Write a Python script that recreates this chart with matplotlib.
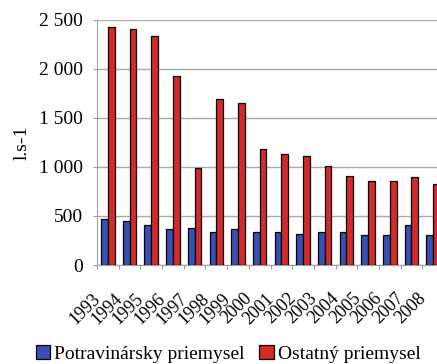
import numpy as np
import matplotlib
matplotlib.use("Agg")
import matplotlib.pyplot as plt
from matplotlib.ticker import FuncFormatter, FixedLocator
from matplotlib.transforms import offset_copy

years = [str(y) for y in range(1993, 2009)]
potravinarsky = [469, 452, 405, 367, 381, 335, 367, 337, 337, 320, 337, 337, 303, 303, 405, 303]
ostatny = [2425, 2408, 2340, 1932, 993, 1690, 1656, 1183, 1129, 1115, 1013, 911, 857, 857, 894, 826]
series_names = ["Potravinársky priemysel", "Ostatný priemysel"]
y_ticks = [0, 500, 1000, 1500, 2000, 2500]

plt.rcParams["font.family"] = ["Liberation Serif", "DejaVu Serif"]

fig = plt.figure(figsize=(4.37, 3.64), dpi=100)
# plot area runs slightly past the right edge of the canvas
ax = fig.add_axes([97 / 437, 1 - 265 / 364, 347 / 437, 245 / 364])

x = np.arange(len(years))
w = 0.31
blue = "#3a4fb5"
red = "#d42a2a"
ax.bar(x - w / 2, potravinarsky, width=w, color=blue, edgecolor="black",
       linewidth=0.9, label=series_names[0], zorder=3)
ax.bar(x + w / 2, ostatny, width=w, color=red, edgecolor="black",
       linewidth=0.9, label=series_names[1], zorder=3)

ax.set_xlim(-0.5, len(years) - 0.5)
ax.set_ylim(0, 2500)
ax.set_yticks(y_ticks)
ax.yaxis.set_major_formatter(FuncFormatter(lambda v, p: f"{int(v):,}".replace(",", " ")))
ax.grid(axis="y", color="#a8a8a8", linewidth=1.0, zorder=0)

# category labels, rotated, placed just under the axis
ax.set_xticks(x)
ax.set_xticklabels([])
lbl_tr = offset_copy(ax.get_xaxis_transform(), fig=fig, x=-10, y=-31, units="dots")
for xi, yr in zip(x, years):
    ax.text(xi, 0, yr, transform=lbl_tr, rotation=45, ha="right", va="center",
            rotation_mode="anchor", fontsize=13, clip_on=False)

ax.xaxis.set_minor_locator(FixedLocator(np.arange(-0.5, len(years), 1.0)))
ax.tick_params(axis="x", which="major", length=0)
ax.tick_params(axis="x", which="minor", length=3, color="#a0a0a0", width=0.8)
ax.tick_params(axis="y", length=3, color="#a0a0a0", width=0.8, labelsize=14, pad=7)

for s in ["top", "right"]:
    ax.spines[s].set_visible(False)
ax.spines["left"].set_color("#a0a0a0")
ax.spines["bottom"].set_color("#a0a0a0")

ax.set_ylabel("l.s-1", fontsize=14)
ax.yaxis.set_label_coords(-(97 - 31) / 347, 0.5)

fig.legend(loc="center", bbox_to_anchor=(228 / 437, 1 - 354 / 364), ncol=2, frameon=False,
           fontsize=14, handlelength=0.75, handleheight=0.75, handletextpad=0.2,
           columnspacing=0.75, borderaxespad=0)

fig.savefig("out.png", dpi=100)
